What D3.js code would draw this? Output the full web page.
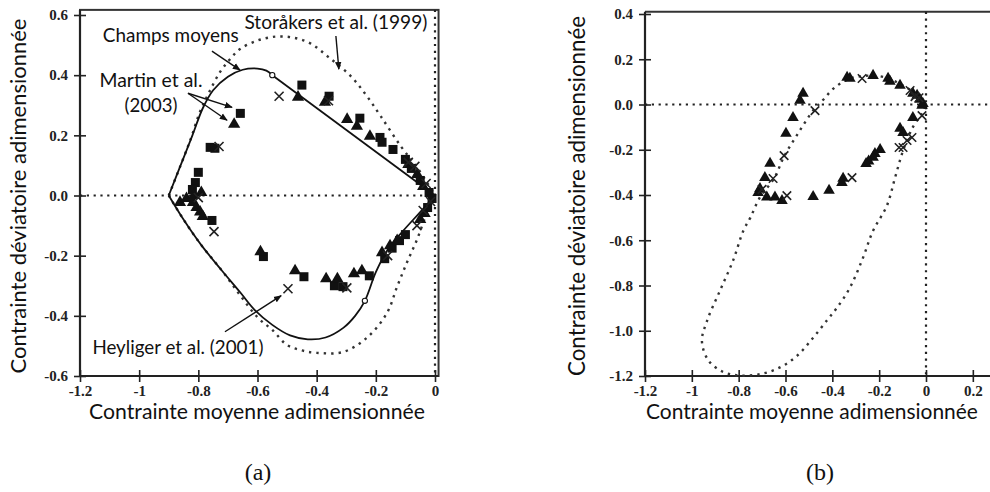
<!DOCTYPE html>
<html><head><meta charset="utf-8">
<script src="https://cdn.jsdelivr.net/npm/d3@7"></script>
<style>body{margin:0;background:#fff}svg{display:block}</style>
</head><body>
<svg id="c" width="990" height="492"></svg>
<script>
// ---------- DATA ----------
// Panel (a)
const aXTicks = [-1.2, -1, -0.8, -0.6, -0.4, -0.2, 0];
const aXTickLabels = ["-1.2", "-1", "-0.8", "-0.6", "-0.4", "-0.2", "0"];
const aYTicks = [0.6, 0.4, 0.2, 0, -0.2, -0.4, -0.6];
const aYTickLabels = ["0.6", "0.4", "0.2", "0.0", "-0.2", "-0.4", "-0.6"];

const champsUpper = [[-0.90,0],[-0.86,0.1],[-0.82,0.2],[-0.785,0.29],[-0.75,0.35],[-0.70,0.395],[-0.65,0.418],[-0.60,0.422],[-0.57,0.415],[-0.55,0.40]];
const champsUpperLine = [[-0.55,0.40],[0,0]];
const champsLower = [[-0.90,0],[-0.85,-0.08],[-0.79,-0.165],[-0.72,-0.25],[-0.66,-0.32],[-0.61,-0.38],[-0.55,-0.43],[-0.49,-0.465],[-0.43,-0.478],[-0.37,-0.472],[-0.31,-0.44],[-0.27,-0.40],[-0.237,-0.35],[-0.20,-0.255],[-0.16,-0.18],[-0.11,-0.12],[-0.05,-0.055],[0,0]];
const champsCircles = [[-0.55,0.40],[-0.237,-0.35]];

const storUpper = [[-0.90,0],[-0.86,0.1],[-0.825,0.19],[-0.795,0.277],[-0.765,0.34],[-0.727,0.41],[-0.693,0.453],[-0.659,0.487],[-0.60,0.515],[-0.54,0.528],[-0.48,0.525],[-0.42,0.505],[-0.36,0.46],[-0.285,0.397],[-0.23,0.33],[-0.183,0.263],[-0.115,0.163],[-0.058,0.09],[0,0]];
const storLower = [[-0.90,0],[-0.85,-0.08],[-0.79,-0.165],[-0.72,-0.25],[-0.66,-0.33],[-0.60,-0.405],[-0.55,-0.447],[-0.50,-0.497],[-0.45,-0.515],[-0.40,-0.523],[-0.31,-0.52],[-0.227,-0.47],[-0.162,-0.39],[-0.128,-0.303],[-0.095,-0.223],[-0.061,-0.147],[-0.027,-0.057],[0,0]];

const aSquares = [[-0.658,0.273],[-0.76,0.16],[-0.744,0.157],[-0.80,0.077],[-0.81,0.043],[-0.82,0.02],[-0.754,-0.083],[-0.58,-0.203],[-0.443,-0.27],[-0.34,-0.30],[-0.311,-0.303],[-0.222,-0.267],[-0.17,-0.21],[-0.145,-0.175],[-0.12,-0.15],[-0.10,-0.13],[-0.45,0.367],[-0.358,0.33],[-0.254,0.257],[-0.186,0.193],[-0.179,0.177],[-0.142,0.153],[-0.10,0.12],[-0.08,0.09],[-0.05,0.05],[-0.02,0.01],[-0.01,-0.01],[-0.025,-0.04]];
const aTriangles = [[-0.679,0.237],[-0.862,-0.023],[-0.84,-0.01],[-0.818,-0.023],[-0.806,-0.04],[-0.794,-0.055],[-0.785,-0.07],[-0.59,-0.187],[-0.473,-0.25],[-0.368,-0.277],[-0.33,-0.277],[-0.274,-0.26],[-0.247,-0.25],[-0.179,-0.19],[-0.152,-0.167],[-0.128,-0.15],[-0.463,0.327],[-0.372,0.31],[-0.297,0.253],[-0.264,0.23],[-0.22,0.197],[-0.09,0.103],[-0.06,0.07],[-0.04,0.03],[-0.035,-0.06],[-0.05,-0.08],[-0.79,0.01],[-0.815,0.0]];
const aCrosses = [[-0.527,0.33],[-0.36,0.315],[-0.73,0.163],[-0.80,-0.007],[-0.747,-0.12],[-0.497,-0.31],[-0.298,-0.307],[-0.16,-0.2],[-0.061,-0.1],[-0.04,-0.05],[-0.068,0.097],[-0.09,0.11],[-0.03,0.04],[-0.015,-0.02]];

// Panel (b)
const bXTicks = [-1.2, -1, -0.8, -0.6, -0.4, -0.2, 0, 0.2];
const bXTickLabels = ["-1.2", "-1", "-0.8", "-0.6", "-0.4", "-0.2", "0", "0.2"];
const bYTicks = [0.4, 0.2, 0, -0.2, -0.4, -0.6, -0.8, -1.0, -1.2];
const bYTickLabels = ["0.4", "0.2", "0.0", "-0.2", "-0.4", "-0.6", "-0.8", "-1.0", "-1.2"];

const bLoop = [[0,0],[-0.03,0.03],[-0.06,0.06],[-0.11,0.09],[-0.16,0.115],[-0.22,0.128],[-0.27,0.125],[-0.325,0.115],[-0.39,0.075],[-0.44,0.02],[-0.482,-0.027],[-0.545,-0.125],[-0.606,-0.23],[-0.649,-0.327],[-0.709,-0.41],[-0.75,-0.50],[-0.78,-0.558],[-0.824,-0.69],[-0.88,-0.823],[-0.935,-0.956],[-0.957,-1.044],[-0.93,-1.13],[-0.87,-1.18],[-0.794,-1.198],[-0.70,-1.19],[-0.62,-1.16],[-0.55,-1.11],[-0.482,-1.031],[-0.42,-0.95],[-0.38,-0.898],[-0.325,-0.81],[-0.27,-0.68],[-0.226,-0.558],[-0.167,-0.447],[-0.132,-0.323],[-0.098,-0.204],[-0.056,-0.1],[-0.017,-0.04],[0,0]];

const bTriangles = [[-0.337,0.12],[-0.325,0.115],[-0.226,0.128],[-0.162,0.115],[-0.154,0.102],[-0.111,0.084],[-0.056,0.049],[-0.038,0.04],[-0.026,0.022],[-0.013,0.004],[-0.017,-0.004],[-0.111,-0.106],[-0.098,-0.124],[-0.056,-0.058],[-0.196,-0.2],[-0.218,-0.217],[-0.226,-0.234],[-0.245,-0.25],[-0.256,-0.261],[-0.354,-0.327],[-0.359,-0.345],[-0.414,-0.38],[-0.482,-0.407],[-0.615,-0.425],[-0.645,-0.41],[-0.68,-0.41],[-0.709,-0.372],[-0.717,-0.39],[-0.688,-0.323],[-0.666,-0.26],[-0.598,-0.128],[-0.568,-0.058],[-0.538,0.018],[-0.525,0.049]];
const bCrosses = [[-0.273,0.115],[-0.068,0.062],[-0.047,0.035],[-0.03,0.03],[-0.017,-0.049],[-0.06,-0.146],[-0.081,-0.159],[-0.098,-0.19],[-0.115,-0.19],[-0.316,-0.323],[-0.474,-0.027],[-0.606,-0.226],[-0.653,-0.327],[-0.594,-0.403],[-0.70,-0.375]];

// Annotations for panel (a): [x, y] in data units
const annoTexts = [
  {t:"Champs moyens", p:[-0.893,0.51], w:136},
  {t:"Martin et al.", p:[-0.96,0.36], w:103},
  {t:"(2003)", p:[-0.96,0.277], w:53},
  {t:"Storåkers et al. (1999)", p:[-0.335,0.553], w:183},
  {t:"Heyliger et al. (2001)", p:[-0.869,-0.527], w:171}
];
const annoArrows = [
  [[-0.754,0.48],[-0.659,0.417]],
  [[-0.835,0.34],[-0.686,0.293]],
  [[-0.835,0.34],[-0.703,0.25]],
  [[-0.335,0.53],[-0.325,0.42]],
  [[-0.71,-0.453],[-0.52,-0.333]]
];

// ---------- DRAW ----------
const svg = d3.select("#c");
svg.append("rect").attr("width",990).attr("height",492).attr("fill","#fff");
const defs = svg.append("defs");
defs.append("marker").attr("id","arr").attr("viewBox","0 0 10 10").attr("refX",9).attr("refY",5)
  .attr("markerWidth",8).attr("markerHeight",8).attr("markerUnits","userSpaceOnUse").attr("orient","auto")
  .append("path").attr("d","M0,1 L10,5 L0,9 Z").attr("fill","#111");

const sansFont = "Lato, 'Open Sans', sans-serif";
const serifFont = "'Liberation Serif', 'DejaVu Serif', serif";

function fitText(sel, w) {
  const n = sel.node();
  const l = n.getComputedTextLength();
  const fs = parseFloat(sel.attr("font-size"));
  sel.attr("font-size", (fs * w / l).toFixed(2));
}

function panel(cfg) {
  const g = svg.append("g");
  const x = cfg.x, y = cfg.y;
  const [x0] = x.range(); const [y0, y1] = y.range();
  // frame
  if (cfg.frameRight) {
    g.append("rect").attr("x", x0).attr("y", cfg.frameTop).attr("width", cfg.frameRight - x0)
      .attr("height", y0 - cfg.frameTop).attr("fill","none").attr("stroke","#333").attr("stroke-width",2);
  } else {
    g.append("line").attr("x1",x0).attr("x2",990).attr("y1",cfg.frameTop).attr("y2",cfg.frameTop)
      .attr("stroke","#333").attr("stroke-width",2);
  }
  // zero dotted lines
  g.append("line").attr("x1",x0).attr("x2",cfg.zeroRight).attr("y1",y(0)).attr("y2",y(0))
    .attr("stroke","#222").attr("stroke-width",2.2).attr("stroke-dasharray","2.2,4.6");
  g.append("line").attr("x1",x(0)).attr("x2",x(0)).attr("y1",cfg.frameTop).attr("y2",y0)
    .attr("stroke","#222").attr("stroke-width",2.2).attr("stroke-dasharray","2.2,4.6");
  // axes
  const ax = g.append("g").attr("transform",`translate(0,${y0})`)
    .call(d3.axisBottom(x).tickValues(cfg.xTicks).tickFormat((d,i)=>cfg.xLabels[i]).tickSize(6).tickPadding(3));
  ax.selectAll(".tick line").attr("y1",-6).attr("stroke","#222").attr("stroke-width",1.6);
  ax.select(".domain").attr("stroke","#222").attr("stroke-width",2.2).attr("d",`M${x0},0H${cfg.xAxisEnd}`);
  ax.selectAll("text").attr("font-family",serifFont).attr("font-weight","bold").attr("font-size",15).attr("fill","#222");
  const ay = g.append("g").attr("transform",`translate(${x0},0)`)
    .call(d3.axisLeft(y).tickValues(cfg.yTicks).tickFormat((d,i)=>cfg.yLabels[i]).tickSize(6).tickPadding(6));
  ay.selectAll(".tick line").attr("x1",6).attr("stroke","#222").attr("stroke-width",1.6);
  ay.select(".domain").attr("stroke","#222").attr("stroke-width",2.2).attr("d",`M0,${y0}V${cfg.frameTop}`);
  ay.selectAll("text").attr("font-family",serifFont).attr("font-weight","bold").attr("font-size",15).attr("fill","#222");
  // axis titles
  const xt = g.append("text").attr("x",cfg.xTitle[0]).attr("y",cfg.xTitle[1]).attr("text-anchor","middle")
    .attr("font-family",sansFont).attr("font-size",18).attr("fill","#111").text("Contrainte moyenne adimensionnée");
  fitText(xt, cfg.xTitle[2]);
  const yt = g.append("text").attr("transform",`translate(${cfg.yTitle[0]},${cfg.yTitle[1]}) rotate(-90)`)
    .attr("text-anchor","middle").attr("font-family",sansFont).attr("font-size",18).attr("fill","#111")
    .text("Contrainte déviatoire adimensionnée");
  fitText(yt, cfg.yTitle[2]);
  g.append("text").attr("x",cfg.sub[0]).attr("y",cfg.sub[1]).attr("text-anchor","middle")
    .attr("font-family",serifFont).attr("font-size",24).attr("fill","#111").text(cfg.sub[2]);
  return g;
}

function drawMarkers(g, x, y, sq, tri, cr, s) {
  g.selectAll(null).data(sq).enter().append("rect")
    .attr("x",d=>x(d[0])-s/2).attr("y",d=>y(d[1])-s/2).attr("width",s).attr("height",s).attr("fill","#111");
  const triSym = d3.symbol().type(d3.symbolTriangle).size(s*s*0.8);
  g.selectAll(null).data(tri).enter().append("path").attr("d",triSym)
    .attr("transform",d=>`translate(${x(d[0])},${y(d[1])})`).attr("fill","#111");
  const h = s*0.5;
  g.selectAll(null).data(cr).enter().append("path")
    .attr("d",d=>{const cx=x(d[0]),cy=y(d[1]);return `M${cx-h},${cy-h}L${cx+h},${cy+h}M${cx-h},${cy+h}L${cx+h},${cy-h}`;})
    .attr("stroke","#222").attr("stroke-width",1.6).attr("fill","none");
}

// Panel (a)
const xA = d3.scaleLinear().domain([-1.2,0]).range([80,435]);
const yA = d3.scaleLinear().domain([-0.6,0.6]).range([376,15]);
const gA = panel({x:xA, y:yA, frameTop:yA(0.617), frameRight:xA(0.012), zeroRight:xA(0), xAxisEnd:xA(0.012),
  xTicks:aXTicks, xLabels:aXTickLabels, yTicks:aYTicks, yLabels:aYTickLabels,
  xTitle:[257,419,336], yTitle:[26,196,355], sub:[258,480,"(a)"]});

const lineA = d3.line().x(d=>xA(d[0])).y(d=>yA(d[1])).curve(d3.curveCatmullRom);
const dotStyle = s => s.attr("fill","none").attr("stroke","#333").attr("stroke-width",2.4).attr("stroke-dasharray","2.4,5").attr("stroke-linecap","butt");
dotStyle(gA.append("path").attr("d",lineA(storUpper)));
dotStyle(gA.append("path").attr("d",lineA(storLower)));
const solidStyle = s => s.attr("fill","none").attr("stroke","#111").attr("stroke-width",1.8);
solidStyle(gA.append("path").attr("d",lineA(champsUpper)));
solidStyle(gA.append("path").attr("d",d3.line().x(d=>xA(d[0])).y(d=>yA(d[1]))(champsUpperLine)));
solidStyle(gA.append("path").attr("d",lineA(champsLower)));
gA.selectAll(null).data(champsCircles).enter().append("circle")
  .attr("cx",d=>xA(d[0])).attr("cy",d=>yA(d[1])).attr("r",2.6).attr("fill","#fff").attr("stroke","#111").attr("stroke-width",1.1);
drawMarkers(gA, xA, yA, aSquares, aTriangles, aCrosses, 9);

annoTexts.forEach(a=>{
  const t = gA.append("text").attr("x",xA(a.p[0])).attr("y",yA(a.p[1])).attr("text-anchor","middle")
    .attr("font-family",sansFont).attr("font-size",16).attr("fill","#111").text(a.t);
  fitText(t, a.w);
});
annoArrows.forEach(a=>{
  gA.append("line").attr("x1",xA(a[0][0])).attr("y1",yA(a[0][1])).attr("x2",xA(a[1][0])).attr("y2",yA(a[1][1]))
    .attr("stroke","#111").attr("stroke-width",1.4).attr("marker-end","url(#arr)");
});

// Panel (b)
const xB = d3.scaleLinear().domain([-1.2,0]).range([645,926]);
const yB = d3.scaleLinear().domain([-1.2,0.4]).range([376,14]);
const gB = panel({x:xB, y:yB, frameTop:yB(0.41), frameRight:null, zeroRight:990, xAxisEnd:990,
  xTicks:bXTicks, xLabels:bXTickLabels, yTicks:bYTicks, yLabels:bYTickLabels,
  xTitle:[812,419,332], yTitle:[585,196,360], sub:[820,480,"(b)"]});
const lineB = d3.line().x(d=>xB(d[0])).y(d=>yB(d[1])).curve(d3.curveCatmullRom);
dotStyle(gB.append("path").attr("d",lineB(bLoop)));
drawMarkers(gB, xB, yB, [], bTriangles, bCrosses, 8.5);
</script>
</body></html>
